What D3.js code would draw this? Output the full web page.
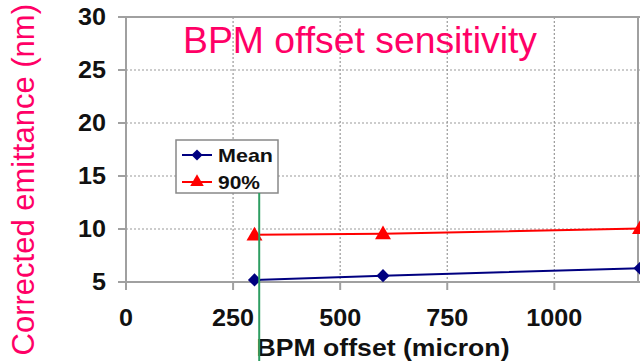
<!DOCTYPE html>
<html>
<head>
<meta charset="utf-8">
<script src="https://cdn.jsdelivr.net/npm/d3@7"></script>
<style>
  body { margin: 0; background: #fff; }
  svg { display: block; font-family: Arial, "Liberation Sans", sans-serif; }
  .tick-label { font-weight: bold; font-size: 23px; fill: #111; }
</style>
</head>
<body>
<div id="chart"></div>
<script>
// data
var offsets = [300, 600, 1200]
var meanVals = [5.2, 5.6, 6.3]
var p90Vals = [9.45, 9.55, 10.05]
var xTicks = [0, 250, 500, 750, 1000]
var yTicks = [5, 10, 15, 20, 25, 30]
var markerX = [311]

var width = 640, height = 361

var svg = d3.select('#chart').append('svg')
  .attr('width', width).attr('height', height)

var x = d3.scaleLinear().domain([0, 1200]).range([126, 640])
var y = d3.scaleLinear().domain([5, 30]).range([282, 17])

// gridlines
svg.append('g').selectAll('line').data(yTicks.filter(d => d > 5 && d < 30)).join('line')
  .attr('x1', x(0)).attr('x2', x(1200))
  .attr('y1', d => y(d)).attr('y2', d => y(d))
  .attr('stroke', '#999').attr('stroke-width', 1.2).attr('stroke-dasharray', '2,2')

svg.append('g').selectAll('line').data(xTicks.filter(d => d > 0)).join('line')
  .attr('x1', d => x(d)).attr('x2', d => x(d))
  .attr('y1', y(30)).attr('y2', y(5))
  .attr('stroke', '#999').attr('stroke-width', 1.2).attr('stroke-dasharray', '2,2')

// frame
var frame = '#a0a0a0'
svg.append('line').attr('x1', x(0) - 8).attr('x2', x(1200)).attr('y1', y(30)).attr('y2', y(30))
  .attr('stroke', frame).attr('stroke-width', 2)
svg.append('line').attr('x1', x(1200) - 2).attr('x2', x(1200) - 2).attr('y1', y(30)).attr('y2', y(5))
  .attr('stroke', frame).attr('stroke-width', 2)
svg.append('line').attr('x1', x(0)).attr('x2', x(0)).attr('y1', y(30)).attr('y2', y(5))
  .attr('stroke', frame).attr('stroke-width', 2)
svg.append('line').attr('x1', x(0)).attr('x2', x(1200)).attr('y1', y(5)).attr('y2', y(5))
  .attr('stroke', frame).attr('stroke-width', 2)

// tick marks
svg.append('g').selectAll('line').data(yTicks).join('line')
  .attr('x1', x(0) - 8).attr('x2', x(0)).attr('y1', d => y(d)).attr('y2', d => y(d))
  .attr('stroke', frame).attr('stroke-width', 2)
svg.append('g').selectAll('line').data(xTicks).join('line')
  .attr('x1', d => x(d)).attr('x2', d => x(d)).attr('y1', y(5)).attr('y2', y(5) + 8)
  .attr('stroke', frame).attr('stroke-width', 2)

// tick labels (the source font is a bit wider than Arial bold)
svg.append('g').selectAll('text').data(yTicks).join('text')
  .attr('class', 'tick-label')
  .attr('x', 106).attr('y', d => y(d)).attr('dy', '0.36em')
  .attr('text-anchor', 'end')
  .attr('textLength', d => String(d).length * 14).attr('lengthAdjust', 'spacingAndGlyphs')
  .text(d => d)

svg.append('g').selectAll('text').data(xTicks).join('text')
  .attr('class', 'tick-label')
  .attr('x', d => x(d)).attr('y', 326)
  .attr('text-anchor', 'middle')
  .attr('textLength', d => String(d).length * 14).attr('lengthAdjust', 'spacingAndGlyphs')
  .text(d => d)

// axis titles
svg.append('text')
  .attr('x', 383).attr('y', 356)
  .attr('text-anchor', 'middle')
  .attr('textLength', 253).attr('lengthAdjust', 'spacingAndGlyphs')
  .style('font-weight', 'bold').style('font-size', '24px').style('fill', '#111')
  .text('BPM offset (micron)')

svg.append('text')
  .attr('transform', 'translate(34,4) rotate(-90)')
  .attr('text-anchor', 'end')
  .style('font-size', '31px').style('fill', '#ff0066')
  .text('Corrected emittance (nm)')

// title
svg.append('text')
  .attr('x', 183).attr('y', 53)
  .attr('textLength', 354).attr('lengthAdjust', 'spacingAndGlyphs')
  .style('font-size', '37px').style('fill', '#ff0066')
  .text('BPM offset sensitivity')

// series
var meanData = offsets.map((d, i) => ({x: d, y: meanVals[i]}))
var p90Data = offsets.map((d, i) => ({x: d, y: p90Vals[i]}))
var line = d3.line().x(d => x(d.x)).y(d => y(d.y))

svg.append('path').datum(p90Data).attr('d', line)
  .attr('fill', 'none').attr('stroke', '#ff0000').attr('stroke-width', 2)
svg.append('path').datum(meanData).attr('d', line)
  .attr('fill', 'none').attr('stroke', '#000080').attr('stroke-width', 2)

var diamond = d3.symbol().type(d3.symbolDiamond2).size(110)
var triangle = d3.symbol().type(d3.symbolTriangle).size(110)

svg.append('g').selectAll('path').data(meanData).join('path')
  .attr('d', diamond)
  .attr('transform', d => 'translate(' + x(d.x) + ',' + y(d.y) + ')')
  .attr('fill', '#000080')
svg.append('g').selectAll('path').data(p90Data).join('path')
  .attr('d', triangle)
  .attr('transform', d => 'translate(' + x(d.x) + ',' + (y(d.y) + 1) + ')')
  .attr('fill', '#ff0000')

// legend
var lg = svg.append('g').attr('transform', 'translate(176,140)')
lg.append('rect').attr('width', 102).attr('height', 53)
  .attr('fill', '#fff').attr('stroke', '#888').attr('stroke-width', 1.5)
var items = [
  {name: 'Mean', color: '#000080', sym: diamond, w: 55},
  {name: '90%', color: '#ff0000', sym: triangle, w: 42}
]
items.forEach(function(d, i) {
  var yy = 15 + i * 27
  lg.append('line').attr('x1', 6).attr('x2', 36).attr('y1', yy).attr('y2', yy)
    .attr('stroke', d.color).attr('stroke-width', 2)
  lg.append('path').attr('d', d.sym.size(80)).attr('transform', 'translate(21,' + yy + ')')
    .attr('fill', d.color)
  lg.append('text').attr('x', 42).attr('y', yy).attr('dy', '0.36em')
    .attr('textLength', d.w).attr('lengthAdjust', 'spacingAndGlyphs')
    .style('font-weight', 'bold').style('font-size', '19px').style('fill', '#111')
    .text(d.name)
})

// green marker line
svg.append('g').selectAll('line').data(markerX).join('line')
  .attr('x1', d => x(d)).attr('x2', d => x(d)).attr('y1', 193).attr('y2', height)
  .attr('stroke', '#2e9e62').attr('stroke-width', 2)
</script>
</body>
</html>
